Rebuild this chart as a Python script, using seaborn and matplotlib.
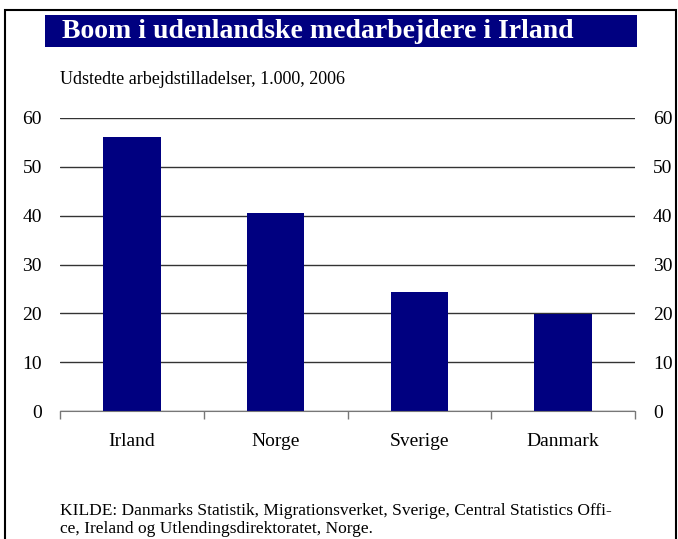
import matplotlib
matplotlib.use('Agg')
import matplotlib.pyplot as plt
import seaborn as sns
import pandas as pd
from matplotlib.patches import Rectangle

# data
lande = ['Irland', 'Norge', 'Sverige', 'Danmark']
tilladelser = [56.1, 40.5, 24.4, 19.9]
yticks = [0, 10, 20, 30, 40, 50, 60]

data = pd.DataFrame({'land': lande, 'antal': tilladelser})

sns.set_style('white')
plt.rcParams['font.family'] = ['Liberation Serif', 'DejaVu Serif']
plt.rcParams['text.color'] = 'black'
plt.rcParams['xtick.color'] = 'black'
plt.rcParams['ytick.color'] = 'black'

W, H = 678, 539
fig = plt.figure(figsize=(W / 100, H / 100), dpi=100)
ax = fig.add_axes([60 / W, 1 - 411 / H, 575 / W, 293 / H])

sns.barplot(data=data, x='land', y='antal', color='#000080', width=0.4,
            saturation=1, linewidth=0, ax=ax, zorder=3)

ax.set_ylim(0, 60)
ax.set_xlim(-0.5, 3.5)
ax.set_yticks(yticks)
ax.yaxis.grid(True, color='#333333', linewidth=1, zorder=0)
ax.set_xlabel('')
ax.set_ylabel('')
for s in ['left', 'right', 'top']:
    ax.spines[s].set_visible(False)
ax.spines['bottom'].set_color('#777777')
ax.spines['bottom'].set_zorder(4)

ax.tick_params(axis='y', length=0, labelsize=14, pad=13, labelright=True,
               labelcolor='black')
ax.tick_params(axis='x', length=0, labelsize=14, pad=16, labelcolor='black')
ax.set_xticks([-0.5, 0.5, 1.5, 2.5, 3.5], minor=True)
ax.tick_params(axis='x', which='minor', bottom=True, length=6, width=1,
               color='#777777', direction='out')

# titel-boks
fig.patches.append(Rectangle((45 / W, 1 - 47 / H), 592 / W, 32 / H,
                             transform=fig.transFigure, facecolor='#000080',
                             edgecolor='none'))
fig.text(62 / W, 1 - 31 / H, 'Boom i udenlandske medarbejdere i Irland',
         color='white', fontsize=20, fontweight='bold', va='center', ha='left')
fig.text(60 / W, 1 - 80 / H, 'Udstedte arbejdstilladelser, 1.000, 2006',
         fontsize=13, va='center', ha='left', color='black')
fig.text(60 / W, 1 - 520 / H,
         'KILDE: Danmarks Statistik, Migrationsverket, Sverige, Central Statistics Offi-\n'
         'ce, Ireland og Utlendingsdirektoratet, Norge.',
         fontsize=12.5, va='center', ha='left', linespacing=1.1, color='black')

# ramme
fig.patches.append(Rectangle((5 / W, -0.05), 671 / W, 1.05 - 10 / H,
                             transform=fig.transFigure, facecolor='none',
                             edgecolor='black', linewidth=1.5))

fig.savefig('out.png', dpi=100)
